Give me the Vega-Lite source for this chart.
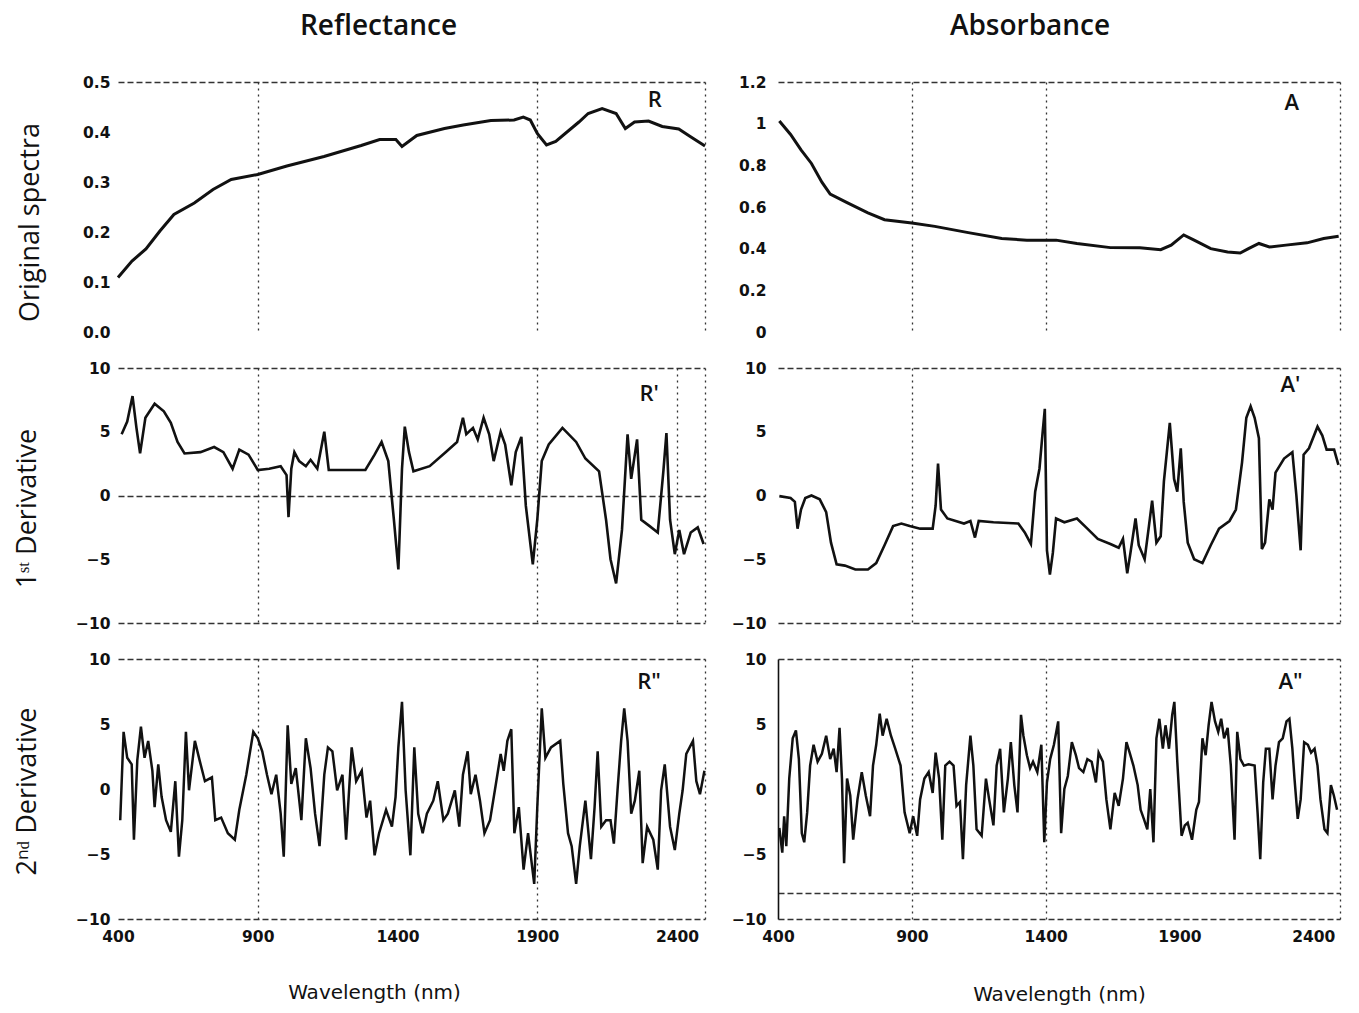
{
  "$schema": "https://vega.github.io/schema/vega-lite/v6.json",
  "background": "white",
  "padding": {"left": 13, "top": 13, "right": 5, "bottom": 5},
  "config": {
    "view": {"stroke": null},
    "font": "Open Sans",
    "axis": {"ticks": false, "domain": false, "labelFont": "DejaVu Sans", "labelFontSize": 15.5, "labelFontWeight": "bold", "labelColor": "#111", "titleFont": "Open Sans", "titleFontWeight": "normal", "titleFontSize": 27, "titleColor": "#111", "gridColor": "#333", "gridWidth": 1.3, "labelFlush": false, "labelOverlap": false, "labelBound": false},
    "axisY": {"gridDash": [6, 3]},
    "axisX": {"gridDash": [2, 4]},
    "title": {"font": "Open Sans", "fontSize": 28, "fontWeight": 600, "color": "#111"}
  },
  "datasets": {
    "R": [{"wl":400,"v":0.109},{"wl":450,"v":0.142},{"wl":500,"v":0.166},{"wl":550,"v":0.202},{"wl":600,"v":0.235},{"wl":673,"v":0.258},{"wl":740,"v":0.285},{"wl":805,"v":0.305},{"wl":900,"v":0.315},{"wl":1004,"v":0.332},{"wl":1137,"v":0.351},{"wl":1270,"v":0.373},{"wl":1336,"v":0.385},{"wl":1394,"v":0.385},{"wl":1416,"v":0.371},{"wl":1469,"v":0.393},{"wl":1568,"v":0.407},{"wl":1635,"v":0.414},{"wl":1734,"v":0.423},{"wl":1817,"v":0.424},{"wl":1850,"v":0.43},{"wl":1875,"v":0.424},{"wl":1900,"v":0.397},{"wl":1933,"v":0.374},{"wl":1966,"v":0.381},{"wl":2049,"v":0.42},{"wl":2082,"v":0.437},{"wl":2132,"v":0.447},{"wl":2182,"v":0.437},{"wl":2215,"v":0.407},{"wl":2248,"v":0.42},{"wl":2298,"v":0.422},{"wl":2347,"v":0.411},{"wl":2406,"v":0.406},{"wl":2447,"v":0.391},{"wl":2500,"v":0.372}],
    "A": [{"wl":405,"v":1.013},{"wl":447,"v":0.948},{"wl":486,"v":0.874},{"wl":525,"v":0.809},{"wl":564,"v":0.719},{"wl":595,"v":0.662},{"wl":658,"v":0.621},{"wl":736,"v":0.572},{"wl":798,"v":0.539},{"wl":900,"v":0.523},{"wl":986,"v":0.507},{"wl":1111,"v":0.477},{"wl":1236,"v":0.449},{"wl":1330,"v":0.441},{"wl":1439,"v":0.441},{"wl":1517,"v":0.425},{"wl":1642,"v":0.405},{"wl":1752,"v":0.404},{"wl":1830,"v":0.395},{"wl":1869,"v":0.417},{"wl":1916,"v":0.466},{"wl":1955,"v":0.441},{"wl":2017,"v":0.4},{"wl":2080,"v":0.384},{"wl":2127,"v":0.379},{"wl":2158,"v":0.4},{"wl":2197,"v":0.425},{"wl":2236,"v":0.408},{"wl":2298,"v":0.417},{"wl":2377,"v":0.428},{"wl":2439,"v":0.449},{"wl":2495,"v":0.46}],
    "R1": [{"wl":413,"v":4.8},{"wl":433,"v":5.8},{"wl":452,"v":7.8},{"wl":466,"v":5.3},{"wl":479,"v":3.3},{"wl":498,"v":6.1},{"wl":531,"v":7.2},{"wl":564,"v":6.6},{"wl":589,"v":5.7},{"wl":613,"v":4.2},{"wl":638,"v":3.3},{"wl":695,"v":3.4},{"wl":744,"v":3.8},{"wl":777,"v":3.4},{"wl":810,"v":2.1},{"wl":834,"v":3.6},{"wl":867,"v":3.2},{"wl":900,"v":2.0},{"wl":941,"v":2.1},{"wl":982,"v":2.3},{"wl":1003,"v":1.6},{"wl":1010,"v":-1.7},{"wl":1020,"v":2.1},{"wl":1031,"v":3.4},{"wl":1048,"v":2.7},{"wl":1072,"v":2.3},{"wl":1089,"v":2.8},{"wl":1113,"v":2.1},{"wl":1138,"v":5.0},{"wl":1154,"v":2.0},{"wl":1203,"v":2.0},{"wl":1285,"v":2.0},{"wl":1318,"v":3.2},{"wl":1343,"v":4.2},{"wl":1367,"v":2.7},{"wl":1387,"v":-1.9},{"wl":1403,"v":-5.8},{"wl":1416,"v":2.1},{"wl":1426,"v":5.4},{"wl":1441,"v":3.4},{"wl":1457,"v":1.9},{"wl":1515,"v":2.3},{"wl":1572,"v":3.4},{"wl":1613,"v":4.2},{"wl":1634,"v":6.1},{"wl":1646,"v":4.8},{"wl":1670,"v":5.3},{"wl":1687,"v":4.4},{"wl":1708,"v":6.1},{"wl":1728,"v":4.8},{"wl":1744,"v":2.7},{"wl":1769,"v":5.0},{"wl":1785,"v":4.0},{"wl":1807,"v":0.8},{"wl":1823,"v":3.4},{"wl":1843,"v":4.6},{"wl":1859,"v":-0.8},{"wl":1884,"v":-5.4},{"wl":1900,"v":-1.9},{"wl":1916,"v":2.7},{"wl":1941,"v":4.0},{"wl":1990,"v":5.3},{"wl":2039,"v":4.2},{"wl":2072,"v":2.9},{"wl":2121,"v":1.9},{"wl":2146,"v":-1.9},{"wl":2162,"v":-5.0},{"wl":2182,"v":-6.9},{"wl":2203,"v":-2.7},{"wl":2223,"v":4.8},{"wl":2236,"v":1.3},{"wl":2257,"v":4.4},{"wl":2272,"v":-1.9},{"wl":2302,"v":-2.4},{"wl":2331,"v":-2.9},{"wl":2351,"v":1.9},{"wl":2362,"v":4.9},{"wl":2375,"v":-1.9},{"wl":2392,"v":-4.6},{"wl":2408,"v":-2.7},{"wl":2425,"v":-4.6},{"wl":2449,"v":-2.9},{"wl":2474,"v":-2.5},{"wl":2495,"v":-3.8}],
    "A1": [{"wl":405,"v":-0.05},{"wl":447,"v":-0.2},{"wl":463,"v":-0.5},{"wl":473,"v":-2.6},{"wl":486,"v":-1.1},{"wl":502,"v":-0.2},{"wl":525,"v":0},{"wl":556,"v":-0.3},{"wl":580,"v":-1.3},{"wl":598,"v":-3.7},{"wl":619,"v":-5.4},{"wl":650,"v":-5.5},{"wl":689,"v":-5.8},{"wl":736,"v":-5.8},{"wl":767,"v":-5.3},{"wl":798,"v":-3.9},{"wl":830,"v":-2.4},{"wl":861,"v":-2.2},{"wl":892,"v":-2.4},{"wl":931,"v":-2.6},{"wl":978,"v":-2.6},{"wl":989,"v":-0.8},{"wl":998,"v":2.5},{"wl":1009,"v":-1.1},{"wl":1033,"v":-1.8},{"wl":1064,"v":-2.0},{"wl":1095,"v":-2.2},{"wl":1119,"v":-2.0},{"wl":1136,"v":-3.3},{"wl":1150,"v":-2.0},{"wl":1205,"v":-2.1},{"wl":1298,"v":-2.2},{"wl":1322,"v":-2.9},{"wl":1345,"v":-3.8},{"wl":1361,"v":0.3},{"wl":1377,"v":2.1},{"wl":1389,"v":5.0},{"wl":1397,"v":6.8},{"wl":1405,"v":-4.3},{"wl":1416,"v":-6.2},{"wl":1427,"v":-4.5},{"wl":1439,"v":-1.8},{"wl":1470,"v":-2.1},{"wl":1517,"v":-1.8},{"wl":1556,"v":-2.6},{"wl":1595,"v":-3.4},{"wl":1642,"v":-3.8},{"wl":1673,"v":-4.1},{"wl":1689,"v":-3.4},{"wl":1705,"v":-6.1},{"wl":1717,"v":-4.5},{"wl":1736,"v":-1.8},{"wl":1748,"v":-3.9},{"wl":1770,"v":-5.0},{"wl":1786,"v":-2.4},{"wl":1798,"v":-0.4},{"wl":1814,"v":-3.7},{"wl":1830,"v":-3.2},{"wl":1842,"v":1.1},{"wl":1853,"v":3.4},{"wl":1864,"v":5.7},{"wl":1880,"v":1.3},{"wl":1892,"v":0.3},{"wl":1905,"v":3.7},{"wl":1916,"v":-0.5},{"wl":1931,"v":-3.7},{"wl":1955,"v":-5.0},{"wl":1986,"v":-5.3},{"wl":2017,"v":-3.9},{"wl":2048,"v":-2.6},{"wl":2087,"v":-2.0},{"wl":2111,"v":-1.1},{"wl":2134,"v":2.6},{"wl":2150,"v":6.1},{"wl":2166,"v":7.0},{"wl":2181,"v":6.1},{"wl":2197,"v":4.5},{"wl":2208,"v":-4.2},{"wl":2220,"v":-3.7},{"wl":2236,"v":-0.3},{"wl":2248,"v":-1.1},{"wl":2259,"v":1.8},{"wl":2291,"v":2.9},{"wl":2322,"v":3.4},{"wl":2337,"v":0},{"wl":2353,"v":-4.3},{"wl":2364,"v":3.2},{"wl":2384,"v":3.7},{"wl":2416,"v":5.4},{"wl":2434,"v":4.7},{"wl":2450,"v":3.6},{"wl":2478,"v":3.6},{"wl":2494,"v":2.4}],
    "R2": [{"wl":408,"v":-2.4},{"wl":420,"v":4.4},{"wl":433,"v":2.4},{"wl":449,"v":1.9},{"wl":457,"v":-3.9},{"wl":469,"v":2.2},{"wl":482,"v":4.8},{"wl":495,"v":2.4},{"wl":508,"v":3.7},{"wl":523,"v":1.4},{"wl":531,"v":-1.4},{"wl":544,"v":1.9},{"wl":556,"v":-0.6},{"wl":572,"v":-2.4},{"wl":589,"v":-3.3},{"wl":605,"v":0.6},{"wl":618,"v":-5.2},{"wl":630,"v":-2.4},{"wl":643,"v":4.4},{"wl":654,"v":-0.1},{"wl":675,"v":3.7},{"wl":692,"v":2.2},{"wl":711,"v":0.6},{"wl":736,"v":0.9},{"wl":748,"v":-2.4},{"wl":769,"v":-2.2},{"wl":793,"v":-3.4},{"wl":818,"v":-3.9},{"wl":834,"v":-1.6},{"wl":859,"v":1.1},{"wl":884,"v":4.4},{"wl":900,"v":3.9},{"wl":916,"v":2.9},{"wl":933,"v":1.1},{"wl":949,"v":-0.4},{"wl":966,"v":1.1},{"wl":982,"v":-1.9},{"wl":993,"v":-5.2},{"wl":1007,"v":4.9},{"wl":1020,"v":0.4},{"wl":1036,"v":1.6},{"wl":1056,"v":-2.4},{"wl":1072,"v":3.9},{"wl":1089,"v":1.6},{"wl":1105,"v":-1.9},{"wl":1121,"v":-4.4},{"wl":1138,"v":1.1},{"wl":1151,"v":3.2},{"wl":1167,"v":2.9},{"wl":1184,"v":-0.1},{"wl":1203,"v":1.1},{"wl":1216,"v":-3.9},{"wl":1236,"v":3.2},{"wl":1252,"v":0.6},{"wl":1272,"v":1.4},{"wl":1289,"v":-2.2},{"wl":1302,"v":-0.9},{"wl":1318,"v":-5.1},{"wl":1334,"v":-3.4},{"wl":1359,"v":-1.6},{"wl":1380,"v":-2.9},{"wl":1393,"v":-0.6},{"wl":1403,"v":3.2},{"wl":1416,"v":6.7},{"wl":1429,"v":-0.1},{"wl":1446,"v":-5.1},{"wl":1460,"v":3.2},{"wl":1474,"v":-1.9},{"wl":1490,"v":-3.4},{"wl":1505,"v":-1.9},{"wl":1528,"v":-0.9},{"wl":1544,"v":0.6},{"wl":1564,"v":-2.4},{"wl":1580,"v":-1.9},{"wl":1605,"v":-0.1},{"wl":1621,"v":-2.9},{"wl":1634,"v":1.1},{"wl":1651,"v":2.9},{"wl":1662,"v":-0.4},{"wl":1679,"v":1.1},{"wl":1695,"v":-0.9},{"wl":1711,"v":-3.4},{"wl":1731,"v":-2.4},{"wl":1752,"v":0.4},{"wl":1769,"v":2.7},{"wl":1780,"v":1.4},{"wl":1793,"v":3.7},{"wl":1807,"v":4.6},{"wl":1818,"v":-3.4},{"wl":1834,"v":-1.4},{"wl":1851,"v":-6.2},{"wl":1867,"v":-3.4},{"wl":1889,"v":-7.3},{"wl":1900,"v":-1.4},{"wl":1916,"v":6.2},{"wl":1929,"v":2.4},{"wl":1949,"v":3.2},{"wl":1982,"v":3.7},{"wl":1993,"v":0.4},{"wl":2010,"v":-3.4},{"wl":2023,"v":-4.4},{"wl":2039,"v":-7.3},{"wl":2052,"v":-4.4},{"wl":2072,"v":-0.9},{"wl":2092,"v":-5.4},{"wl":2105,"v":-1.4},{"wl":2116,"v":2.9},{"wl":2129,"v":-2.9},{"wl":2146,"v":-2.4},{"wl":2162,"v":-2.4},{"wl":2174,"v":-4.2},{"wl":2187,"v":-0.1},{"wl":2200,"v":3.7},{"wl":2211,"v":6.2},{"wl":2223,"v":3.7},{"wl":2236,"v":-1.9},{"wl":2249,"v":-0.9},{"wl":2265,"v":1.4},{"wl":2277,"v":-5.7},{"wl":2293,"v":-2.9},{"wl":2315,"v":-3.9},{"wl":2331,"v":-6.2},{"wl":2343,"v":-0.1},{"wl":2356,"v":1.9},{"wl":2375,"v":-2.9},{"wl":2392,"v":-4.7},{"wl":2408,"v":-1.9},{"wl":2420,"v":-0.1},{"wl":2433,"v":2.7},{"wl":2457,"v":3.7},{"wl":2469,"v":0.6},{"wl":2482,"v":-0.4},{"wl":2498,"v":1.4}],
    "A2": [{"wl":405,"v":-3.0},{"wl":416,"v":-4.9},{"wl":423,"v":-2.1},{"wl":431,"v":-4.4},{"wl":442,"v":0.8},{"wl":455,"v":3.9},{"wl":467,"v":4.5},{"wl":478,"v":2.3},{"wl":489,"v":-3.4},{"wl":498,"v":-4.1},{"wl":509,"v":-1.8},{"wl":520,"v":1.8},{"wl":533,"v":3.4},{"wl":548,"v":2.1},{"wl":564,"v":2.7},{"wl":580,"v":4.1},{"wl":595,"v":2.3},{"wl":608,"v":3.1},{"wl":619,"v":1.3},{"wl":630,"v":4.7},{"wl":639,"v":0.8},{"wl":647,"v":-5.7},{"wl":658,"v":0.8},{"wl":670,"v":-0.5},{"wl":681,"v":-3.9},{"wl":697,"v":-0.8},{"wl":713,"v":1.3},{"wl":728,"v":-0.5},{"wl":744,"v":-2.1},{"wl":755,"v":1.8},{"wl":767,"v":3.4},{"wl":780,"v":5.8},{"wl":791,"v":4.1},{"wl":806,"v":5.4},{"wl":822,"v":4.1},{"wl":838,"v":3.1},{"wl":858,"v":1.8},{"wl":873,"v":-1.8},{"wl":892,"v":-3.4},{"wl":905,"v":-2.1},{"wl":920,"v":-3.6},{"wl":931,"v":-0.8},{"wl":947,"v":0.8},{"wl":963,"v":1.3},{"wl":978,"v":-0.3},{"wl":989,"v":2.8},{"wl":1002,"v":0.8},{"wl":1014,"v":-3.9},{"wl":1025,"v":1.8},{"wl":1041,"v":2.1},{"wl":1056,"v":1.8},{"wl":1067,"v":-1.3},{"wl":1080,"v":-1.0},{"wl":1091,"v":-5.4},{"wl":1103,"v":0.3},{"wl":1119,"v":4.1},{"wl":1130,"v":1.8},{"wl":1142,"v":-3.1},{"wl":1161,"v":-3.6},{"wl":1177,"v":0.8},{"wl":1189,"v":-0.8},{"wl":1205,"v":-2.8},{"wl":1217,"v":1.8},{"wl":1230,"v":3.1},{"wl":1244,"v":-1.8},{"wl":1259,"v":0.8},{"wl":1270,"v":3.6},{"wl":1283,"v":0.3},{"wl":1295,"v":-1.8},{"wl":1308,"v":5.7},{"wl":1317,"v":4.1},{"wl":1330,"v":2.6},{"wl":1342,"v":1.6},{"wl":1353,"v":2.1},{"wl":1369,"v":1.3},{"wl":1384,"v":3.4},{"wl":1395,"v":-4.1},{"wl":1405,"v":0.5},{"wl":1417,"v":2.3},{"wl":1431,"v":3.4},{"wl":1447,"v":5.2},{"wl":1458,"v":-3.4},{"wl":1470,"v":0},{"wl":1483,"v":1.0},{"wl":1498,"v":3.6},{"wl":1513,"v":2.6},{"wl":1525,"v":1.6},{"wl":1541,"v":1.3},{"wl":1556,"v":2.3},{"wl":1572,"v":2.1},{"wl":1588,"v":0.5},{"wl":1598,"v":2.8},{"wl":1614,"v":2.1},{"wl":1627,"v":-0.8},{"wl":1642,"v":-3.1},{"wl":1658,"v":-0.3},{"wl":1673,"v":-1.3},{"wl":1689,"v":0.8},{"wl":1702,"v":3.6},{"wl":1714,"v":2.8},{"wl":1728,"v":1.8},{"wl":1744,"v":0.3},{"wl":1755,"v":-1.6},{"wl":1767,"v":-2.3},{"wl":1780,"v":-3.1},{"wl":1791,"v":0},{"wl":1803,"v":-4.1},{"wl":1814,"v":3.9},{"wl":1825,"v":5.4},{"wl":1838,"v":3.1},{"wl":1848,"v":4.9},{"wl":1861,"v":3.1},{"wl":1873,"v":5.7},{"wl":1881,"v":6.7},{"wl":1892,"v":2.1},{"wl":1908,"v":-3.6},{"wl":1920,"v":-2.8},{"wl":1931,"v":-2.6},{"wl":1947,"v":-3.9},{"wl":1963,"v":-1.6},{"wl":1973,"v":-1.0},{"wl":1986,"v":3.9},{"wl":1998,"v":2.6},{"wl":2009,"v":4.9},{"wl":2020,"v":6.7},{"wl":2033,"v":5.2},{"wl":2045,"v":4.4},{"wl":2056,"v":5.4},{"wl":2067,"v":3.9},{"wl":2080,"v":4.7},{"wl":2092,"v":1.8},{"wl":2106,"v":-3.9},{"wl":2116,"v":4.4},{"wl":2128,"v":2.3},{"wl":2141,"v":1.8},{"wl":2158,"v":1.9},{"wl":2181,"v":1.8},{"wl":2192,"v":-1.8},{"wl":2202,"v":-5.4},{"wl":2213,"v":0.5},{"wl":2223,"v":3.1},{"wl":2236,"v":3.1},{"wl":2248,"v":-0.8},{"wl":2259,"v":1.8},{"wl":2272,"v":3.6},{"wl":2286,"v":3.9},{"wl":2300,"v":5.2},{"wl":2311,"v":5.4},{"wl":2322,"v":3.1},{"wl":2330,"v":0.8},{"wl":2342,"v":-2.3},{"wl":2353,"v":-0.8},{"wl":2366,"v":3.6},{"wl":2380,"v":3.4},{"wl":2392,"v":2.8},{"wl":2405,"v":3.1},{"wl":2416,"v":1.8},{"wl":2427,"v":-0.8},{"wl":2442,"v":-3.1},{"wl":2453,"v":-3.4},{"wl":2466,"v":0.3},{"wl":2477,"v":-0.5},{"wl":2489,"v":-1.6}],
    "labels": [
      {"panel":"R","text":"R","wl":2320,"v":0.464},
      {"panel":"A","text":"A","wl":2320,"v":1.1},
      {"panel":"R1","text":"R'","wl":2300,"v":8.0},
      {"panel":"A1","text":"A'","wl":2315,"v":8.7},
      {"panel":"R2","text":"R\"","wl":2300,"v":8.2},
      {"panel":"A2","text":"A\"","wl":2315,"v":8.2}
    ]
  },
  "columns": 2,
  "spacing": {"row": 36, "column": 73},
  "bounds": "flush",
  "concat": [
    {
      "width": 587, "height": 250,
      "title": {"text": "Reflectance", "dx": -33, "offset": 34},
      "encoding": {
        "x": {"field": "wl", "type": "quantitative", "scale": {"domain": [400, 2500], "nice": false, "zero": false},
              "axis": {"values": [900, 1900, 2500], "labels": false, "title": null, "grid": true}},
        "y": {"field": "v", "type": "quantitative", "scale": {"domain": [0, 0.5], "nice": false, "zero": false},
              "axis": {"values": [0, 0.1, 0.2, 0.3, 0.4, 0.5], "format": ".1f", "title": "Original spectra", "titleY": 140, "titlePadding": 38, "labelPadding": 8, "grid": true,
                       "gridOpacity": {"condition": {"test": "datum.value == 0.5", "value": 1}, "value": 0}}}
      },
      "layer": [
        {"data": {"name": "R"}, "mark": {"type": "line", "color": "#111", "strokeWidth": 3}},
        {"data": {"name": "labels"}, "transform": [{"filter": "datum.panel == 'R'"}], "mark": {"type": "text", "fontSize": 22, "font": "Open Sans", "fontWeight": 600, "color": "#111"}, "encoding": {"text": {"field": "text"}}}
      ]
    },
    {
      "width": 562, "height": 250,
      "title": {"text": "Absorbance", "dx": -29, "offset": 34},
      "encoding": {
        "x": {"field": "wl", "type": "quantitative", "scale": {"domain": [400, 2500], "nice": false, "zero": false},
              "axis": {"values": [900, 1400, 2500], "labels": false, "title": null, "grid": true}},
        "y": {"field": "v", "type": "quantitative", "scale": {"domain": [0, 1.2], "nice": false, "zero": false},
              "axis": {"values": [0, 0.2, 0.4, 0.6, 0.8, 1, 1.2], "format": "~g", "title": null, "labelPadding": 12, "grid": true,
                       "gridOpacity": {"condition": {"test": "datum.value == 1.2", "value": 1}, "value": 0}}}
      },
      "layer": [
        {"data": {"name": "A"}, "mark": {"type": "line", "color": "#111", "strokeWidth": 3}},
        {"data": {"name": "labels"}, "transform": [{"filter": "datum.panel == 'A'"}], "mark": {"type": "text", "fontSize": 22, "font": "Open Sans", "fontWeight": 600, "color": "#111"}, "encoding": {"text": {"field": "text"}}}
      ]
    },
    {
      "width": 587, "height": 255,
      "encoding": {
        "x": {"field": "wl", "type": "quantitative", "scale": {"domain": [400, 2500], "nice": false, "zero": false},
              "axis": {"values": [900, 1900, 2400, 2500], "labels": false, "title": null, "grid": true}},
        "y": {"field": "v", "type": "quantitative", "scale": {"domain": [-10, 10], "nice": false, "zero": false},
              "axis": {"values": [-10, -5, 0, 5, 10], "format": "d", "title": "1ˢᵗ Derivative", "titleY": 140, "titlePadding": 34, "labelPadding": 8, "grid": true,
                       "gridOpacity": {"condition": {"test": "datum.value == 10 || datum.value == -10 || datum.value == 0", "value": 1}, "value": 0}}}
      },
      "layer": [
        {"data": {"name": "R1"}, "mark": {"type": "line", "color": "#111", "strokeWidth": 2.6}},
        {"data": {"name": "labels"}, "transform": [{"filter": "datum.panel == 'R1'"}], "mark": {"type": "text", "fontSize": 22, "font": "Open Sans", "fontWeight": 600, "color": "#111"}, "encoding": {"text": {"field": "text"}}}
      ]
    },
    {
      "width": 562, "height": 255,
      "encoding": {
        "x": {"field": "wl", "type": "quantitative", "scale": {"domain": [400, 2500], "nice": false, "zero": false},
              "axis": {"values": [900, 2500], "labels": false, "title": null, "grid": true}},
        "y": {"field": "v", "type": "quantitative", "scale": {"domain": [-10, 10], "nice": false, "zero": false},
              "axis": {"values": [-10, -5, 0, 5, 10], "format": "d", "title": null, "labelPadding": 12, "grid": true,
                       "gridOpacity": {"condition": {"test": "datum.value == 10 || datum.value == -10", "value": 1}, "value": 0}}}
      },
      "layer": [
        {"data": {"name": "A1"}, "mark": {"type": "line", "color": "#111", "strokeWidth": 2.6}},
        {"data": {"name": "labels"}, "transform": [{"filter": "datum.panel == 'A1'"}], "mark": {"type": "text", "fontSize": 22, "font": "Open Sans", "fontWeight": 600, "color": "#111"}, "encoding": {"text": {"field": "text"}}}
      ]
    },
    {
      "width": 587, "height": 260,
      "encoding": {
        "x": {"field": "wl", "type": "quantitative", "scale": {"domain": [400, 2500], "nice": false, "zero": false},
              "axis": {"values": [400, 900, 1400, 1900, 2400, 2500], "format": "d", "labelExpr": "datum.value == 2500 ? '' : datum.label", "labelPadding": 10, "title": "Wavelength (nm)", "titleFont": "DejaVu Sans", "titleFontSize": 20, "titlePadding": 38, "titleX": 256, "grid": true,
                       "gridOpacity": {"condition": {"test": "datum.value == 900 || datum.value == 1900 || datum.value == 2500", "value": 1}, "value": 0}}},
        "y": {"field": "v", "type": "quantitative", "scale": {"domain": [-10, 10], "nice": false, "zero": false},
              "axis": {"values": [-10, -5, 0, 5, 10], "format": "d", "title": "2ⁿᵈ Derivative", "titleY": 132, "titlePadding": 34, "labelPadding": 8, "grid": true,
                       "gridOpacity": {"condition": {"test": "datum.value == 10 || datum.value == -10", "value": 1}, "value": 0}}}
      },
      "layer": [
        {"data": {"name": "R2"}, "mark": {"type": "line", "color": "#111", "strokeWidth": 2.5}},
        {"data": {"name": "labels"}, "transform": [{"filter": "datum.panel == 'R2'"}], "mark": {"type": "text", "fontSize": 22, "font": "Open Sans", "fontWeight": 600, "color": "#111"}, "encoding": {"text": {"field": "text"}}}
      ]
    },
    {
      "width": 562, "height": 260,
      "encoding": {
        "x": {"field": "wl", "type": "quantitative", "scale": {"domain": [400, 2500], "nice": false, "zero": false},
              "axis": {"values": [400, 900, 1400, 1900, 2400, 2500], "format": "d", "labelExpr": "datum.value == 2500 ? '' : datum.label", "labelPadding": 10, "title": "Wavelength (nm)", "titleFont": "DejaVu Sans", "titleFontSize": 20, "titlePadding": 40, "grid": true,
                       "gridOpacity": {"condition": {"test": "datum.value == 900 || datum.value == 1400 || datum.value == 2500", "value": 1}, "value": 0}}},
        "y": {"field": "v", "type": "quantitative", "scale": {"domain": [-10, 10], "nice": false, "zero": false},
              "axis": {"values": [-10, -8, -5, 0, 5, 10], "labelExpr": "datum.value == -8 ? '' : datum.label", "format": "d", "title": null, "labelPadding": 12, "domain": true, "domainColor": "#111", "domainWidth": 1.6, "grid": true,
                       "gridOpacity": {"condition": {"test": "datum.value == 10 || datum.value == -10 || datum.value == -8", "value": 1}, "value": 0}}}
      },
      "layer": [
        {"data": {"name": "A2"}, "mark": {"type": "line", "color": "#111", "strokeWidth": 2.5}},
        {"data": {"name": "labels"}, "transform": [{"filter": "datum.panel == 'A2'"}], "mark": {"type": "text", "fontSize": 22, "font": "Open Sans", "fontWeight": 600, "color": "#111"}, "encoding": {"text": {"field": "text"}}}
      ]
    }
  ]
}
